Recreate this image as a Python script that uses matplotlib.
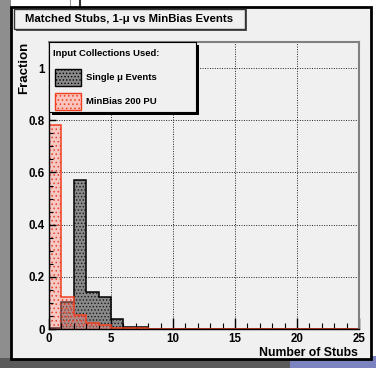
import numpy as np
import matplotlib
matplotlib.use("Agg")
import matplotlib.pyplot as plt
from matplotlib.patches import Rectangle
from matplotlib.ticker import MultipleLocator, FixedLocator, FixedFormatter

plt.rcParams['font.family'] = ['Liberation Sans', 'DejaVu Sans']
plt.rcParams['font.weight'] = 'bold'
plt.rcParams['hatch.linewidth'] = 0.6

# Histogram contents: fraction of events per number of matched stubs (bins 0..25)
bin_edges = list(range(26))
single_mu = [0.005, 0.105, 0.57, 0.14, 0.122, 0.037, 0.009, 0.008,
             0, 0, 0, 0, 0, 0, 0, 0, 0, 0, 0, 0, 0, 0, 0, 0, 0]
minbias = [0.78, 0.122, 0.054, 0.024, 0.014, 0.005, 0.002, 0.004,
           0, 0, 0, 0, 0, 0, 0, 0, 0, 0, 0, 0, 0, 0, 0, 0, 0]

x_ticks = [0, 5, 10, 15, 20, 25]
x_tick_labels = ["0", "5", "10", "15", "20", "25"]
y_ticks = [0, 0.2, 0.4, 0.6, 0.8, 1.0]
y_tick_labels = ["0", "0.2", "0.4", "0.6", "0.8", "1"]

title = "Matched Stubs, 1-\u03bc vs MinBias Events"
legend_header = "Input Collections Used:"
series_names = ["Single \u03bc Events", "MinBias 200 PU"]

W, H = 376, 368
fig = plt.figure(figsize=(W / 100, H / 100), dpi=100, facecolor='white')


def fx(px):
    return px / W


def fy(py):
    return 1 - py / H


# desktop behind the canvas window
fig.patches.append(Rectangle((0, 0), fx(11), 1, transform=fig.transFigure,
                             facecolor='#8e8e8e', edgecolor='none', zorder=0))
fig.patches.append(Rectangle((0, 0), 1, fy(358), transform=fig.transFigure,
                             facecolor='#5a5a5a', edgecolor='none', zorder=0))
fig.patches.append(Rectangle((fx(290), 0), fx(86), fy(356), transform=fig.transFigure,
                             facecolor='#7b83c0', edgecolor='none', zorder=0))
fig.lines.append(plt.Line2D([fx(70), fx(70)], [fy(7), 1], transform=fig.transFigure,
                            color='#999999', lw=0.8, zorder=0))
fig.lines.append(plt.Line2D([fx(80), fx(80)], [fy(7), 1], transform=fig.transFigure,
                            color='#333333', lw=1.5, zorder=0))

# canvas pad
fig.patches.append(Rectangle((fx(11), fy(359)), fx(360), fy(7) - fy(359),
                             transform=fig.transFigure, facecolor='#f0f0f0',
                             edgecolor='black', lw=2, zorder=1))

ax = fig.add_axes([fx(49), fy(329), fx(310), fy(42) - fy(329)])
ax.set_zorder(2)
ax.set_facecolor('#f0f0f0')
ax.set_xlim(0, 25)
ax.set_ylim(0, 1.1)

# dotted grid behind the histograms
for xv in x_ticks[1:-1]:
    ax.axvline(xv, color='#222222', linestyle=(0, (1, 1.5)), lw=0.7, zorder=0.5)
for yv in y_ticks[1:]:
    ax.axhline(yv, color='#222222', linestyle=(0, (1, 1.5)), lw=0.7, zorder=0.5)

# single muon histogram
ax.stairs(single_mu, bin_edges, fill=True, facecolor='#8a8a8a',
          edgecolor='#1a1a1a', hatch='.....', lw=0, zorder=1.0)
ax.stairs(single_mu, bin_edges, color='black', lw=1.1, zorder=1.2)

# minimum bias histogram
ax.stairs(minbias, bin_edges, fill=True, facecolor=(1.0, 0.55, 0.5, 0.40),
          edgecolor='#e8402a', hatch='....', lw=0, zorder=1.4)
ax.stairs(minbias, bin_edges, color='#f04020', lw=1.1, zorder=1.6)

ax.xaxis.set_major_locator(FixedLocator(x_ticks))
ax.xaxis.set_major_formatter(FixedFormatter(x_tick_labels))
ax.xaxis.set_minor_locator(MultipleLocator(1))
ax.yaxis.set_major_locator(FixedLocator(y_ticks))
ax.yaxis.set_major_formatter(FixedFormatter(y_tick_labels))
ax.yaxis.set_minor_locator(MultipleLocator(0.05))

ax.tick_params(which='both', direction='in', top=False, right=False,
               labelsize=8.3, colors='black')
ax.tick_params(axis='x', which='major', length=8, width=1, pad=3)
ax.tick_params(axis='x', which='minor', length=4, width=0.8)
ax.tick_params(axis='y', which='major', length=5, width=1, pad=3)
ax.tick_params(axis='y', which='minor', length=3, width=0.8)
for lbl in ax.get_xticklabels() + ax.get_yticklabels():
    lbl.set_fontweight('bold')

for side in ('top', 'right'):
    ax.spines[side].set_color('#808080')
    ax.spines[side].set_linewidth(1.5)
for side in ('left', 'bottom'):
    ax.spines[side].set_color('black')
    ax.spines[side].set_linewidth(1)

fig.text(fx(24), fy(42), "Fraction", rotation=90, ha='center', va='top',
         fontsize=9.5, fontweight='bold', zorder=3)
fig.text(fx(358), fy(353), "Number of Stubs", ha='right', va='center',
         fontsize=8.8, fontweight='bold', zorder=3)

# title box
fig.patches.append(Rectangle((fx(16), fy(31)), fx(231), fy(9) - fy(31),
                             transform=fig.transFigure, facecolor='#555555',
                             edgecolor='none', zorder=6))
fig.patches.append(Rectangle((fx(14), fy(29)), fx(231), fy(9) - fy(29),
                             transform=fig.transFigure, facecolor='#f0f0f0',
                             edgecolor='#333333', lw=1, zorder=7))
fig.text(fx(129.5), fy(19), title, ha='center', va='center', fontsize=8.2,
         fontweight='bold', zorder=8)

# legend box with drop shadow
fig.patches.append(Rectangle((fx(52), fy(115)), fx(147), fy(45) - fy(115),
                             transform=fig.transFigure, facecolor='black',
                             edgecolor='none', zorder=6))
fig.patches.append(Rectangle((fx(49), fy(112)), fx(147), fy(42) - fy(112),
                             transform=fig.transFigure, facecolor='#f0f0f0',
                             edgecolor='black', lw=0.8, zorder=7))
fig.text(fx(53), fy(54), legend_header, ha='left', va='center', fontsize=6.8,
         fontweight='bold', zorder=8)
fig.patches.append(Rectangle((fx(55), fy(86)), fx(26), fy(69) - fy(86),
                             transform=fig.transFigure, facecolor='#8a8a8a',
                             edgecolor='black', hatch='.....', lw=1, zorder=8))
fig.patches.append(Rectangle((fx(55), fy(110)), fx(26), fy(93) - fy(110),
                             transform=fig.transFigure, facecolor='#f9c4bd',
                             edgecolor='#f04020', hatch='....', lw=1, zorder=8))
fig.text(fx(86), fy(77.5), series_names[0], ha='left', va='center',
         fontsize=6.8, fontweight='bold', zorder=9)
fig.text(fx(86), fy(101.5), series_names[1], ha='left', va='center',
         fontsize=6.8, fontweight='bold', zorder=9)

fig.savefig("out.png", dpi=100, facecolor=fig.get_facecolor())
